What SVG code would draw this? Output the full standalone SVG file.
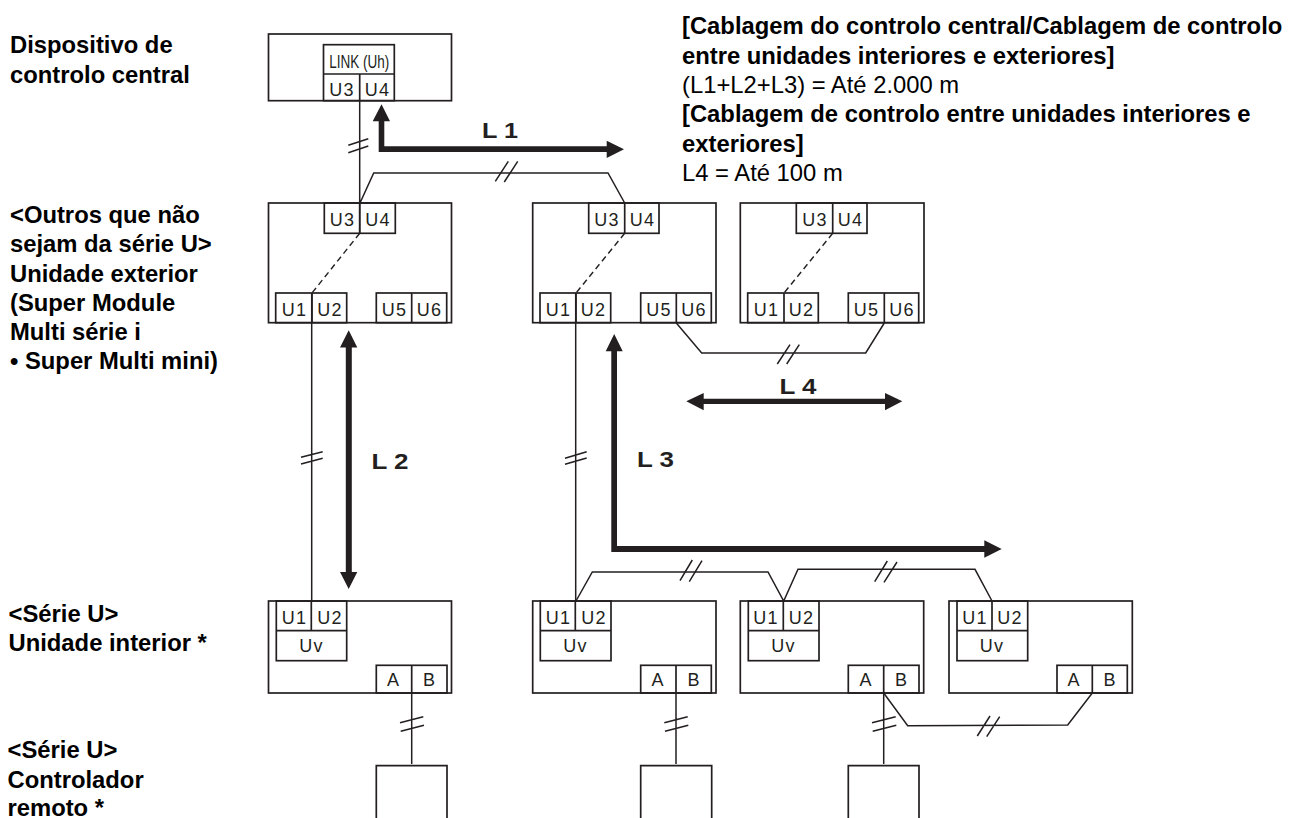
<svg xmlns="http://www.w3.org/2000/svg" width="1299" height="818" viewBox="0 0 1299 818">
<style>
text{font-family:"Liberation Sans",Arial,sans-serif;fill:#231f20}
.b{fill:none;stroke:#231f20;stroke-width:1.7}
.w{fill:none;stroke:#231f20;stroke-width:1.5}
.d{fill:none;stroke:#231f20;stroke-width:1.4;stroke-dasharray:6 4}
.a{fill:#231f20}
.t{font-size:18px;letter-spacing:1.2px;text-anchor:middle}
.l{font-size:22px;font-weight:bold}
.h{font-size:23.8px;font-weight:bold;fill:#000}
.n{font-size:23.8px;fill:#000}
</style>
<rect width="1299" height="818" fill="#fff"/>
<g id="central-controller">
<rect class="b" x="268.5" y="34" width="183" height="66.7"/>
<rect class="b" x="323.5" y="44.7" width="70.8" height="56"/>
<path class="b" d="M323.5 74H394.3M359.7 74V100.7"/>
<text x="329.3" y="67.7" font-size="18" textLength="60" lengthAdjust="spacingAndGlyphs">LINK (Uh)</text>
<text class="t" x="342" y="96">U3</text><text class="t" x="377.5" y="96">U4</text>
</g>
<g id="outdoor-1">
<rect class="b" x="268.5" y="203" width="183" height="119.7"/>
<rect class="b" x="324.3" y="203" width="71" height="30.3"/><path class="b" d="M359.7 203V233.3"/>
<rect class="b" x="275.7" y="293" width="71" height="29.7"/><path class="b" d="M312 293V322.7"/>
<rect class="b" x="376.3" y="293" width="70.4" height="29.7"/><path class="b" d="M411.7 293V322.7"/>
<text class="t" x="342.5" y="225.7">U3</text><text class="t" x="378" y="225.7">U4</text>
<text class="t" x="294.5" y="316">U1</text><text class="t" x="330" y="316">U2</text>
<text class="t" x="394.5" y="316">U5</text><text class="t" x="429.5" y="316">U6</text>
</g>
<g id="outdoor-2">
<rect class="b" x="532.7" y="203" width="183.3" height="119.7"/>
<rect class="b" x="588.7" y="203" width="70.3" height="30.3"/><path class="b" d="M624.7 203V233.3"/>
<rect class="b" x="540" y="293" width="70.7" height="29.7"/><path class="b" d="M576 293V322.7"/>
<rect class="b" x="640.7" y="293" width="70.6" height="29.7"/><path class="b" d="M676.3 293V322.7"/>
<text class="t" x="607" y="225.7">U3</text><text class="t" x="642.5" y="225.7">U4</text>
<text class="t" x="558.5" y="316">U1</text><text class="t" x="593.5" y="316">U2</text>
<text class="t" x="659" y="316">U5</text><text class="t" x="694" y="316">U6</text>
</g>
<g id="outdoor-3">
<rect class="b" x="740.3" y="203" width="183.7" height="119.7"/>
<rect class="b" x="796.3" y="203" width="70.7" height="30.3"/><path class="b" d="M832.7 203V233.3"/>
<rect class="b" x="747.7" y="293" width="70.6" height="29.7"/><path class="b" d="M784 293V322.7"/>
<rect class="b" x="848.3" y="293" width="70.4" height="29.7"/><path class="b" d="M884.3 293V322.7"/>
<text class="t" x="815" y="225.7">U3</text><text class="t" x="850.5" y="225.7">U4</text>
<text class="t" x="766.5" y="316">U1</text><text class="t" x="801.5" y="316">U2</text>
<text class="t" x="866.5" y="316">U5</text><text class="t" x="902" y="316">U6</text>
</g>
<g id="indoor-1">
<rect class="b" x="268.5" y="601" width="183" height="92"/>
<rect class="b" x="276.3" y="601" width="70.4" height="59.7"/><path class="b" d="M276.3 630.7H346.7M311.3 601V630.7"/>
<rect class="b" x="376.3" y="665.3" width="70.7" height="27.7"/><path class="b" d="M411.7 665.3V693"/>
<text class="t" x="294.5" y="624.3">U1</text><text class="t" x="330" y="624.3">U2</text>
<text class="t" x="311.5" y="652.3">Uv</text>
<text class="t" x="393.5" y="686">A</text><text class="t" x="429.5" y="686">B</text>
</g>
<g id="indoor-2">
<rect class="b" x="532.7" y="601" width="183.3" height="92"/>
<rect class="b" x="540.3" y="601" width="70.7" height="59.7"/><path class="b" d="M540.3 630.7H611M575.3 601V630.7"/>
<rect class="b" x="640.7" y="665.3" width="70.6" height="27.7"/><path class="b" d="M676 665.3V693"/>
<text class="t" x="558.5" y="624.3">U1</text><text class="t" x="594" y="624.3">U2</text>
<text class="t" x="575.5" y="652.3">Uv</text>
<text class="t" x="658" y="686">A</text><text class="t" x="694" y="686">B</text>
</g>
<g id="indoor-3">
<rect class="b" x="740.3" y="601" width="183.4" height="92"/>
<rect class="b" x="748.3" y="601" width="70.7" height="59.7"/><path class="b" d="M748.3 630.7H819M783.3 601V630.7"/>
<rect class="b" x="848.3" y="665.3" width="70.7" height="27.7"/><path class="b" d="M883.7 665.3V693"/>
<text class="t" x="766" y="624.3">U1</text><text class="t" x="801.5" y="624.3">U2</text>
<text class="t" x="783.5" y="652.3">Uv</text>
<text class="t" x="866" y="686">A</text><text class="t" x="901.5" y="686">B</text>
</g>
<g id="indoor-4">
<rect class="b" x="949" y="601" width="183.3" height="92"/>
<rect class="b" x="957" y="601" width="70.7" height="59.7"/><path class="b" d="M957 630.7H1027.7M992 601V630.7"/>
<rect class="b" x="1057" y="665.3" width="70.3" height="27.7"/><path class="b" d="M1092.3 665.3V693"/>
<text class="t" x="975" y="624.3">U1</text><text class="t" x="1010" y="624.3">U2</text>
<text class="t" x="992" y="652.3">Uv</text>
<text class="t" x="1074" y="686">A</text><text class="t" x="1110" y="686">B</text>
</g>
<g id="remote-1"><path class="b" d="M376.3 818V765.7H447V818"/></g>
<g id="remote-2"><path class="b" d="M640.7 818V765.7H711.7V818"/></g>
<g id="remote-3"><path class="b" d="M848.3 818V765.7H919V818"/></g>
<g id="connectors">
<path class="w" d="M359.7 100V233M360 203L373.7 173H608L624.7 203"/>
<path class="w" d="M348.3 145.3L368.3 138.7M348.3 152.7L368.3 146M495.3 181.3L508.3 161.3M504.3 182L517.7 161.3"/>
<path class="d" d="M359.7 233.3L312 293M624.7 233.3L576 293M832.7 233.3L784 293"/>
<path class="w" d="M311.7 293V601M301 457.3L322.7 451.7M301 464L322.7 458.3"/>
<path class="w" d="M575.7 293V601M565 458.3L586.7 451.7M565 464.3L586.7 458"/>
<path class="w" d="M676.3 323L701.7 353H865.7L884.3 323M777.3 364L790 344.7M786.7 364L799.3 344.7"/>
<path class="w" d="M576 601L592.3 572H768L783.7 601L798 569.3H975L992 601"/>
<path class="w" d="M680 580.7L692.3 560M689.3 581.7L702 560.7M874.7 581.7L887.3 561M884 582.3L897 562"/>
<path class="w" d="M411.7 693V764M400 722.7L423.3 716.7M400.7 731.3L424 725.3"/>
<path class="w" d="M676 693V764M664.3 722.7L687.7 716.7M665 731.3L688.3 725.3"/>
<path class="w" d="M883.7 693V764M872 722.7L895.7 716.7M872.7 731.3L896.3 725.3"/>
<path class="w" d="M883.7 693L907.7 725.7L1067.7 725L1092.3 693M977.3 736L990 716M986.7 736.7L999.7 716.7"/>
<path class="a" d="M381.5 104.3L390 121.3H384.3V146.3H606.7V140.7L624 149.3L606.7 158V152H378.7V121.3H372.7Z"/>
<path class="a" d="M348.7 330.3L357.3 347.5H351.8V572H357.3L348.7 589L340 572H345.8V347.5H340Z"/>
<path class="a" d="M614.2 334L622.7 351.3H617V546H984.3V540.3L1001.7 549L984.3 557.7V552H611.3V351.3H605.7Z"/>
<path class="a" d="M686.3 401.3L703.7 393V398.7H885V393L902.3 401.3L885 410.3V404H703.7V410.3Z"/>
</g>
<g id="length-labels">
<text class="l" x="482" y="138.3" textLength="36" lengthAdjust="spacingAndGlyphs">L 1</text>
<text class="l" x="371.5" y="469" textLength="37" lengthAdjust="spacingAndGlyphs">L 2</text>
<text class="l" x="637" y="466.7" textLength="37" lengthAdjust="spacingAndGlyphs">L 3</text>
<text class="l" x="779.5" y="394" textLength="37" lengthAdjust="spacingAndGlyphs">L 4</text>
</g>
<g id="legend">
<text class="h" x="682" y="34.3">[Cablagem do controlo central/Cablagem de controlo</text>
<text class="h" x="682" y="63.7">entre unidades interiores e exteriores]</text>
<text class="n" x="682" y="93">(L1+L2+L3) = Até 2.000 m</text>
<text class="h" x="682" y="122.3">[Cablagem de controlo entre unidades interiores e</text>
<text class="h" x="682" y="151.7">exteriores]</text>
<text class="n" x="682" y="181">L4 = Até 100 m</text>
</g>
<g id="row-labels">
<text class="h" x="10" y="53.3">Dispositivo de</text>
<text class="h" x="10" y="83.3">controlo central</text>
<text class="h" x="10" y="223">&lt;Outros que não</text>
<text class="h" x="10" y="252">sejam da série U&gt;</text>
<text class="h" x="10" y="281.5">Unidade exterior</text>
<text class="h" x="10" y="310.5">(Super Module</text>
<text class="h" x="10" y="339.5">Multi série i</text>
<text class="h" x="10" y="369">• Super Multi mini)</text>
<text class="h" x="8.5" y="621.7">&lt;Série U&gt;</text>
<text class="h" x="8.5" y="651">Unidade interior *</text>
<text class="h" x="7.5" y="758">&lt;Série U&gt;</text>
<text class="h" x="7.5" y="788">Controlador</text>
<text class="h" x="7.5" y="816">remoto *</text>
</g>
</svg>
